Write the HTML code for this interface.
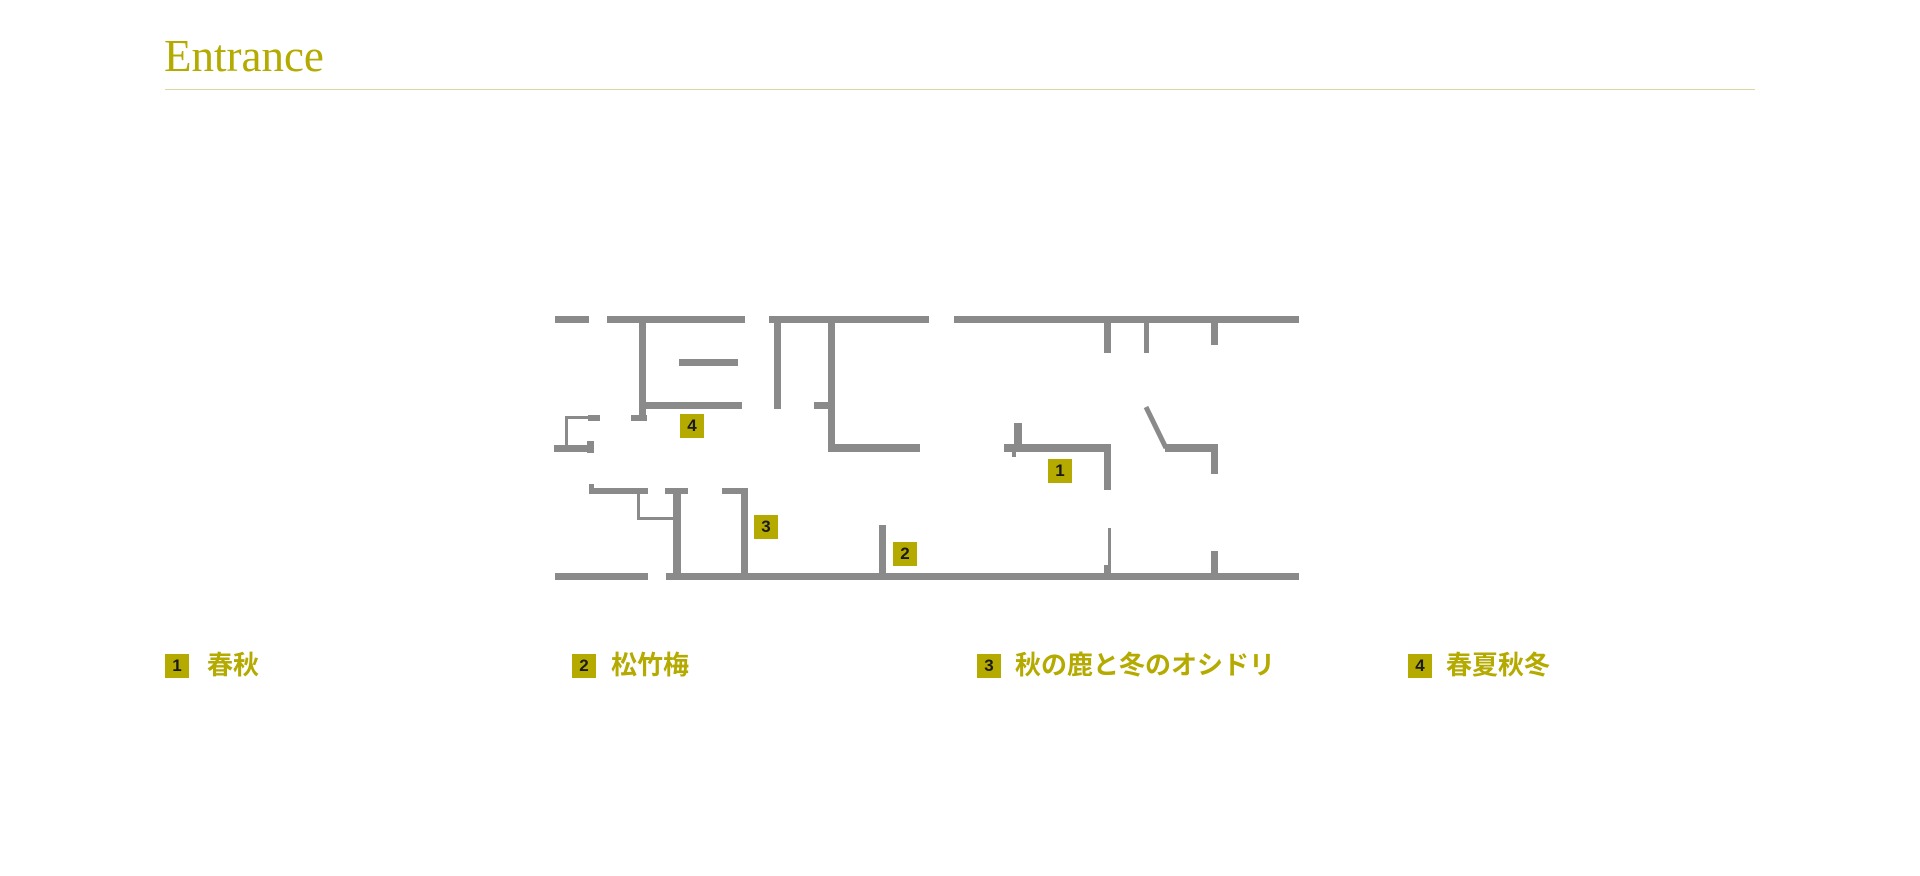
<!DOCTYPE html>
<html><head><meta charset="utf-8"><style>
body{margin:0;width:1920px;height:876px;background:#fff;position:relative;overflow:hidden;font-family:"Liberation Sans","Noto Sans CJK JP",sans-serif}
.w{position:absolute;background:#8a8a8a}
.b{position:absolute;background:#b4aa00;color:#1a1a1a;font-weight:bold;font-size:17px;text-align:center;line-height:24px;width:24px;height:24px}
.t{position:absolute;color:#b4aa00;font-weight:bold;font-size:26px;line-height:30px;top:650px;white-space:nowrap}
</style></head><body>
<div style="position:absolute;left:164px;top:29px;font-family:'Liberation Serif',serif;font-size:45px;color:#b4aa00;line-height:54px">Entrance</div>
<div style="position:absolute;left:165px;top:89px;width:1590px;height:1px;background:#ddd6a0"></div>

<!-- top walls -->
<div class="w" style="left:555px;top:316px;width:34px;height:7px"></div>
<div class="w" style="left:607px;top:316px;width:138px;height:7px"></div>
<div class="w" style="left:769px;top:316px;width:160px;height:7px"></div>
<div class="w" style="left:954px;top:316px;width:345px;height:7px"></div>
<!-- room 4 -->
<div class="w" style="left:639px;top:323px;width:7px;height:98px"></div>
<div class="w" style="left:631px;top:415px;width:16px;height:6px"></div>
<div class="w" style="left:679px;top:359px;width:59px;height:7px"></div>
<div class="w" style="left:646px;top:402px;width:96px;height:7px"></div>
<!-- bracket -->
<div class="w" style="left:565px;top:416px;width:3px;height:32px"></div>
<div class="w" style="left:565px;top:416px;width:25px;height:3px"></div>
<div class="w" style="left:588px;top:415px;width:12px;height:6px"></div>
<div class="w" style="left:554px;top:445px;width:40px;height:7px"></div>
<div class="w" style="left:587px;top:441px;width:7px;height:12px"></div>
<!-- middle -->
<div class="w" style="left:774px;top:323px;width:7px;height:86px"></div>
<div class="w" style="left:828px;top:323px;width:7px;height:129px"></div>
<div class="w" style="left:814px;top:402px;width:18px;height:7px"></div>
<div class="w" style="left:828px;top:444px;width:92px;height:8px"></div>
<div class="w" style="left:1104px;top:323px;width:7px;height:30px"></div>
<div class="w" style="left:1144px;top:323px;width:5px;height:30px"></div>
<div class="w" style="left:1211px;top:323px;width:7px;height:22px"></div>
<!-- room 1 -->
<div class="w" style="left:1014px;top:423px;width:8px;height:24px"></div>
<div class="w" style="left:1004px;top:444px;width:107px;height:8px"></div>
<div class="w" style="left:1012px;top:452px;width:4px;height:5px"></div>
<div class="w" style="left:1104px;top:444px;width:7px;height:46px"></div>
<svg style="position:absolute;left:0;top:0" width="1920" height="876"><line x1="1146" y1="407" x2="1166" y2="448" stroke="#8a8a8a" stroke-width="5"/></svg>
<div class="w" style="left:1165px;top:444px;width:53px;height:8px"></div>
<div class="w" style="left:1211px;top:444px;width:7px;height:30px"></div>
<!-- bottom left -->
<div class="w" style="left:589px;top:484px;width:5px;height:6px"></div>
<div class="w" style="left:589px;top:488px;width:59px;height:6px"></div>
<div class="w" style="left:637px;top:494px;width:3px;height:26px"></div>
<div class="w" style="left:637px;top:517px;width:37px;height:3px"></div>
<div class="w" style="left:665px;top:488px;width:23px;height:6px"></div>
<div class="w" style="left:673px;top:488px;width:8px;height:89px"></div>
<div class="w" style="left:722px;top:488px;width:26px;height:6px"></div>
<div class="w" style="left:741px;top:488px;width:7px;height:89px"></div>
<div class="w" style="left:879px;top:525px;width:7px;height:52px"></div>
<div class="w" style="left:1108px;top:528px;width:3px;height:45px"></div>
<div class="w" style="left:1104px;top:565px;width:7px;height:8px"></div>
<div class="w" style="left:1211px;top:551px;width:7px;height:26px"></div>
<!-- bottom walls -->
<div class="w" style="left:555px;top:573px;width:93px;height:7px"></div>
<div class="w" style="left:666px;top:573px;width:633px;height:7px"></div>

<div class="b" style="left:680px;top:414px">4</div>
<div class="b" style="left:1048px;top:459px">1</div>
<div class="b" style="left:754px;top:515px">3</div>
<div class="b" style="left:893px;top:542px">2</div>

<!-- legend -->
<div class="b" style="left:165px;top:654px">1</div><div class="t" style="left:207px">春秋</div>
<div class="b" style="left:572px;top:654px">2</div><div class="t" style="left:611px">松竹梅</div>
<div class="b" style="left:977px;top:654px">3</div><div class="t" style="left:1015px">秋の鹿と冬のオシドリ</div>
<div class="b" style="left:1408px;top:654px">4</div><div class="t" style="left:1446px">春夏秋冬</div>
</body></html>
